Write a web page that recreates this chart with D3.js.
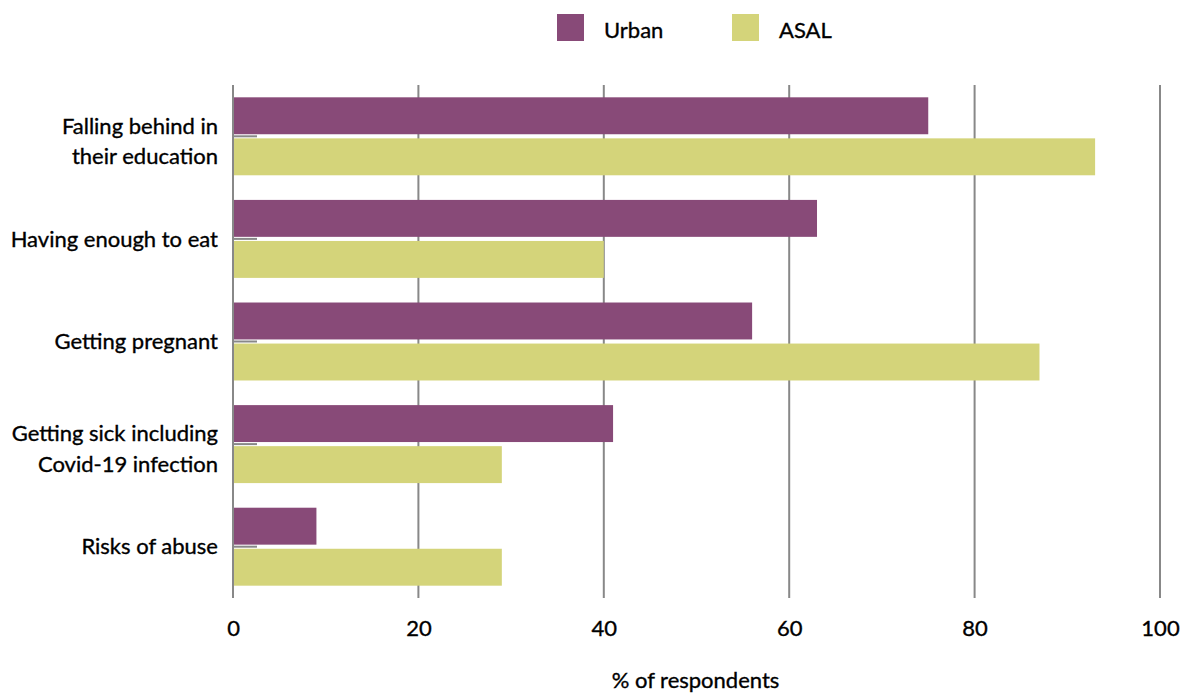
<!DOCTYPE html>
<html>
<head>
<meta charset="utf-8">
<script src="https://cdn.jsdelivr.net/npm/d3@7"></script>
<style>
  body { margin: 0; background: #fff; }
  text { font-family: Lato, "Open Sans", sans-serif; fill: #000; stroke: #000; stroke-width: 0.35px; }
</style>
</head>
<body>
<div id="chart"></div>
<script>
var svgwidth = 1181;
var svgheight = 693;
var margin = {top: 85, bottom: 95, right: 21, left: 233};
var width = svgwidth - margin.left - margin.right;
var height = svgheight - margin.top - margin.bottom;

// data
var categories = [
  ["Falling behind in", "their education"],
  ["Having enough to eat"],
  ["Getting pregnant"],
  ["Getting sick including", "Covid-19 infection"],
  ["Risks of abuse"]
];
var seriesNames = ["Urban", "ASAL"];
var urban = [75, 63, 56, 41, 9];
var asal = [93, 40, 87, 29, 29];
var xTicks = [0, 20, 40, 60, 80, 100];
var colors = ["#884a78", "#d4d47a"];

var svg = d3.select("#chart").append("svg").attr("width", svgwidth).attr("height", svgheight);
var chartGroup = svg.append("g").attr("transform", `translate(${margin.left}, ${margin.top})`);

var x = d3.scaleLinear().domain([0, 100]).range([0, width]);
var y = d3.scaleBand().domain(d3.range(categories.length)).range([0, height]).paddingInner(0.24).paddingOuter(0.12);
var ySub = d3.scaleBand().domain(seriesNames).range([0, y.bandwidth()]).paddingInner(0.1);

// grid lines
chartGroup.selectAll(".grid")
  .data(xTicks)
  .enter().append("line")
  .attr("x1", d => x(d)).attr("x2", d => x(d))
  .attr("y1", 0).attr("y2", height)
  .attr("stroke", "#888").attr("stroke-width", 2);

// x tick labels
var bottomAxis = d3.axisBottom(x).tickValues(xTicks).tickSize(0).tickPadding(22);
var xg = chartGroup.append("g").attr("transform", `translate(0, ${height})`).call(bottomAxis);
xg.select(".domain").remove();
xg.selectAll("text").style("font-size", "22px").style("font-family", "Lato, sans-serif").attr("fill", "#000");

// bars
var rows = categories.map((c, i) => ({i: i, values: [urban[i], asal[i]]}));
var grp = chartGroup.selectAll(".cat").data(rows).enter().append("g")
  .attr("transform", d => `translate(0, ${y(d.i)})`);
grp.selectAll("rect").data(d => d.values.map((v, j) => ({name: seriesNames[j], v: v, j: j})))
  .enter().append("rect")
  .attr("x", x(0) + 1)
  .attr("y", d => ySub(d.name))
  .attr("width", d => x(d.v) - x(0) - 1)
  .attr("height", ySub.bandwidth())
  .attr("fill", d => colors[d.j]);

// small tick marks
grp.append("line")
  .attr("x1", x(0)).attr("x2", x(0) + 24)
  .attr("y1", y.bandwidth() / 2).attr("y2", y.bandwidth() / 2)
  .attr("stroke", "#888").attr("stroke-width", 2);

// category labels
grp.append("text")
  .attr("x", -15)
  .attr("y", y.bandwidth() / 2)
  .attr("text-anchor", "end")
  .style("font-size", "22px")
  .each(function(d) {
    var lines = categories[d.i];
    var t = d3.select(this);
    lines.forEach(function(l, k) {
      t.append("tspan").attr("x", -15)
        .attr("dy", k === 0 ? (lines.length === 1 ? "0.35em" : "-0.12em") : "1.4em")
        .text(l);
    });
  });

// axis title
svg.append("text")
  .attr("x", margin.left + width / 2 - 1)
  .attr("y", 688)
  .attr("text-anchor", "middle")
  .style("font-size", "22px")
  .text("% of respondents");

// legend
var legend = svg.append("g");
var legendX = [557, 732];
seriesNames.forEach(function(n, j) {
  legend.append("rect").attr("x", legendX[j]).attr("y", 14).attr("width", 27).attr("height", 27).attr("fill", colors[j]);
  legend.append("text").attr("x", legendX[j] + 47).attr("y", 38).style("font-size", "22px").text(n);
});
</script>
</body>
</html>
